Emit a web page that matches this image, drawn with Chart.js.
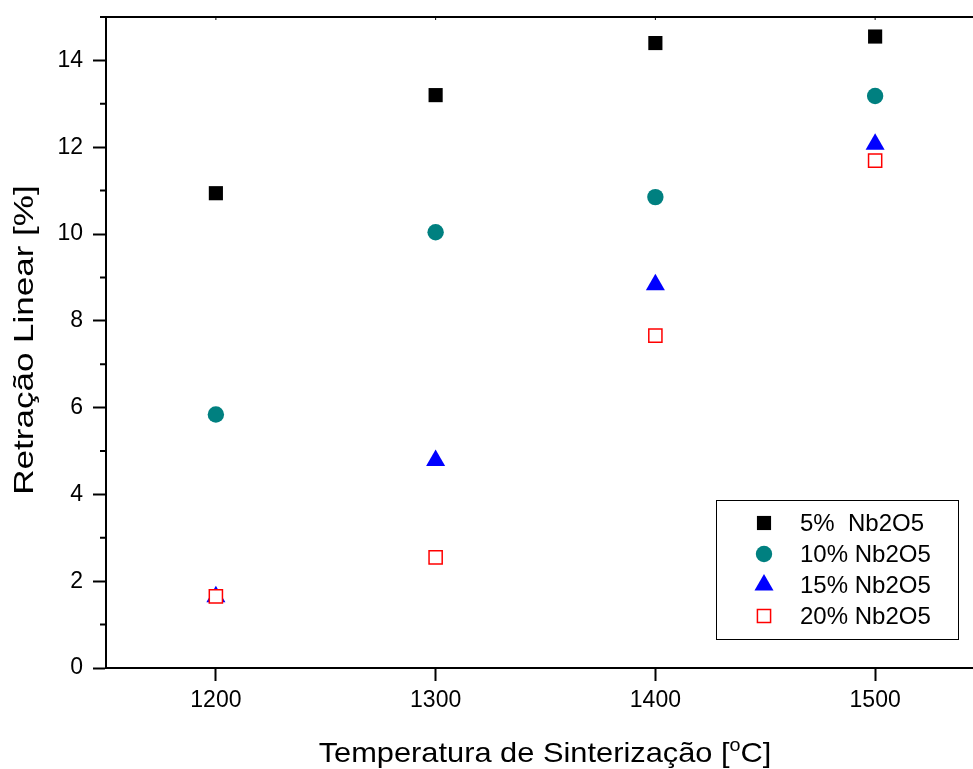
<!DOCTYPE html>
<html>
<head>
<meta charset="utf-8">
<script src="https://cdn.jsdelivr.net/npm/chart.js@4.4.1/dist/chart.umd.min.js"></script>
<style>
    html, body { margin: 0; padding: 0; background: #fff; overflow: hidden; }
    #wrap { width: 1000px; height: 769px; }
</style>
</head>
<body>
<div id="wrap"><canvas id="grafico" width="1000" height="769"></canvas></div>
<script>
// Datos
const temperaturas = [1200, 1300, 1400, 1500];
const nb5 = [10.94, 13.2, 14.4, 14.55];
const nb10 = [5.84, 10.04, 10.85, 13.18];
const nb15 = [1.64, 4.78, 8.83, 12.07];
const nb20 = [1.65, 2.55, 7.66, 11.69];
const etiquetas = ["5%  Nb2O5", "10% Nb2O5", "15% Nb2O5", "20% Nb2O5"];
const xTicks = [1200, 1300, 1400, 1500];
const yMayores = [0, 2, 4, 6, 8, 10, 12, 14];
const yMenores = [1, 3, 5, 7, 9, 11, 13, 15];

const fuente = '"Liberation Sans", Arial, sans-serif';

function puntos(valores) {
    return temperaturas.map((t, i) => ({ x: t, y: valores[i] }));
}

// Ejes extra: línea superior, ticks menores, títulos y leyenda
const extras = {
    id: 'extras',
    afterDraw(chart) {
        const ctx = chart.ctx;
        const area = chart.chartArea;
        const ys = chart.scales.y;
        const xs = chart.scales.x;
        ctx.save();
        ctx.strokeStyle = '#000';
        ctx.lineWidth = 2;
        ctx.beginPath();
        ctx.moveTo(area.left, area.top);
        ctx.lineTo(area.right, area.top);
        yMenores.forEach(v => {
            const py = ys.getPixelForValue(v);
            ctx.moveTo(area.left - 6, py);
            ctx.lineTo(area.left, py);
        });
        ctx.stroke();
        ctx.lineWidth = 1;
        ctx.beginPath();
        xTicks.forEach(v => {
            const px = xs.getPixelForValue(v);
            ctx.moveTo(px, area.top);
            ctx.lineTo(px, area.top + 3);
        });
        ctx.stroke();

        // Título eje X con superíndice
        ctx.fillStyle = '#000';
        ctx.textBaseline = 'alphabetic';
        ctx.textAlign = 'left';
        const parte1 = 'Temperatura de Sinterização [';
        const sup = 'o';
        const parte2 = 'C]';
        ctx.font = '28px ' + fuente;
        const w1 = ctx.measureText(parte1).width;
        const w3 = ctx.measureText(parte2).width;
        ctx.font = '18px ' + fuente;
        const w2 = ctx.measureText(sup).width;
        const total = w1 + w2 + w3;
        ctx.save();
        ctx.translate(545, 762);
        ctx.scale(1.1, 1);
        const x0 = -total / 2;
        ctx.font = '28px ' + fuente;
        ctx.fillText(parte1, x0, 0);
        ctx.font = '18px ' + fuente;
        ctx.fillText(sup, x0 + w1, -11);
        ctx.font = '28px ' + fuente;
        ctx.fillText(parte2, x0 + w1 + w2, 0);
        ctx.restore();

        // Título eje Y
        ctx.save();
        ctx.translate(33, 340);
        ctx.rotate(-Math.PI / 2);
        ctx.scale(1.25, 1);
        ctx.textAlign = 'center';
        ctx.font = '28px ' + fuente;
        ctx.fillText('Retração Linear [%]', 0, 0);
        ctx.restore();

        // Leyenda
        ctx.lineWidth = 1;
        ctx.strokeStyle = '#000';
        ctx.fillStyle = '#fff';
        ctx.fillRect(716, 500, 242, 139);
        ctx.strokeRect(716.5, 500.5, 242, 139);
        const filas = [523, 554, 585, 616];
        chart.data.datasets.forEach((ds, i) => {
            ctx.fillStyle = ds.backgroundColor;
            ctx.strokeStyle = ds.borderColor;
            ctx.lineWidth = ds.borderWidth;
            Chart.helpers.drawPoint(ctx, {
                pointStyle: ds.pointStyle,
                radius: ds.pointRadius,
                borderWidth: ds.borderWidth,
                rotation: 0
            }, 764, filas[i]);
            ctx.fillStyle = '#000';
            ctx.font = '24px ' + fuente;
            ctx.textAlign = 'left';
            ctx.textBaseline = 'middle';
            ctx.fillText(etiquetas[i], 800, filas[i] + 1);
        });
        ctx.restore();
    }
};

new Chart(document.getElementById('grafico').getContext('2d'), {
    type: 'scatter',
    data: {
        datasets: [
            { label: etiquetas[0], data: puntos(nb5), pointStyle: 'rect', pointRadius: 10,
              backgroundColor: '#000000', borderColor: '#000000', borderWidth: 0, order: 4 },
            { label: etiquetas[1], data: puntos(nb10), pointStyle: 'circle', pointRadius: 8.2,
              backgroundColor: '#008080', borderColor: '#008080', borderWidth: 0, order: 3 },
            { label: etiquetas[2], data: puntos(nb15), pointStyle: 'triangle', pointRadius: 11,
              backgroundColor: '#0000ff', borderColor: '#0000ff', borderWidth: 0, order: 2 },
            { label: etiquetas[3], data: puntos(nb20), pointStyle: 'rect', pointRadius: 9.3,
              backgroundColor: '#ffffff', borderColor: '#ff0000', borderWidth: 1.5, order: 1 }
        ]
    },
    options: {
        responsive: false,
        animation: false,
        devicePixelRatio: 1,
        layout: { padding: { top: 17, right: 15, left: 0, bottom: 0 } },
        plugins: {
            legend: { display: false },
            tooltip: { enabled: false }
        },
        scales: {
            x: {
                type: 'linear',
                min: 1150,
                max: 1550,
                afterBuildTicks: s => { s.ticks = xTicks.map(v => ({ value: v })); },
                afterFit: s => { s.height = 101; s.paddingLeft = 0; s.paddingRight = 0; },
                grid: { drawOnChartArea: false, drawTicks: true, tickLength: 13, tickColor: '#000', tickWidth: 2 },
                border: { display: true, color: '#000', width: 2 },
                ticks: { color: '#000', padding: 6, font: { family: fuente, size: 23 }, maxRotation: 0,
                         callback: v => String(v) }
            },
            y: {
                min: 0,
                max: 15,
                afterBuildTicks: s => { s.ticks = yMayores.map(v => ({ value: v })); },
                afterFit: s => { s.width = 106; s.paddingTop = 0; s.paddingBottom = 0; },
                grid: { drawOnChartArea: false, drawTicks: true, tickLength: 13, tickColor: '#000', tickWidth: 2 },
                border: { display: true, color: '#000', width: 2 },
                ticks: { color: '#000', padding: 10, font: { family: fuente, size: 23 },
                         callback: v => String(v) }
            }
        }
    },
    plugins: [extras]
});
</script>
</body>
</html>
